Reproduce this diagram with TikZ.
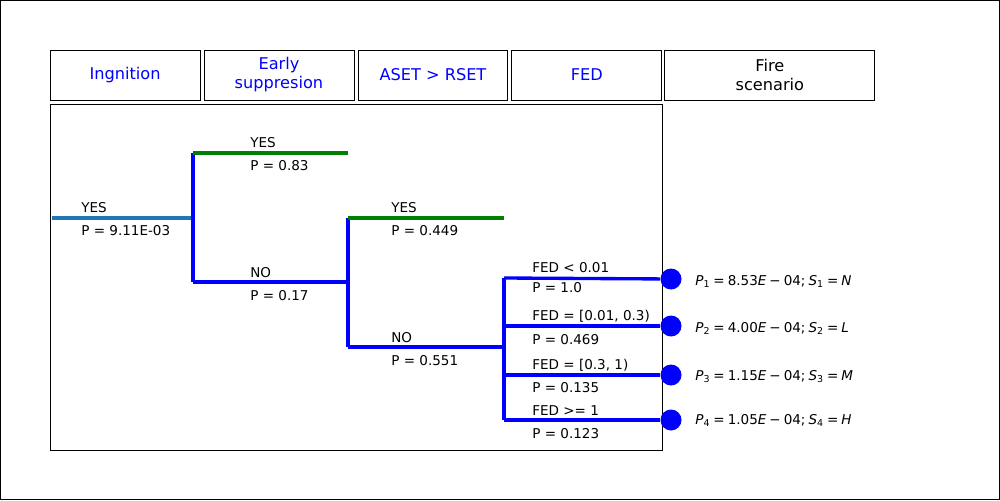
\documentclass[tikz,border=0pt]{standalone}
\usepackage{fontspec}
\setmainfont{DejaVu Sans}
\usetikzlibrary{positioning}
\definecolor{stahlblau}{HTML}{1F77B4}
\definecolor{gruen}{RGB}{0,128,0}
\tikzset{
    kasse/.style={
           draw=black, line width=0.5pt,
           minimum width=3cm,
           minimum height=1cm,
           inner sep=0pt, outer sep=0pt,
           align=center, text=blue,
           font=\fontsize{9.2}{10.8}\selectfont},
    tekst/.style={
           anchor=base west,
           inner sep=0pt,
           font=\fontsize{7.7}{9}\selectfont},
    prik/.style={
           circle, fill=blue,
           minimum size=0.42cm,
           inner sep=0pt},
    gren/.style={
           blue, line width=1.9pt},
    ja/.style={
           gruen, line width=1.9pt}
}

\begin{document}
\begin{tikzpicture}[x=0.02cm, y=-0.02cm]
        \useasboundingbox (0,0) rectangle (1000,500);
        \draw[line width=0.5pt] (0.5,0.5) rectangle (999.5,499.5);

        % header
        \node[kasse] (h1) at (125,75) {Ingnition};
        \node[kasse, right=0.08cm of h1] (h2) {Early\\suppresion};
        \node[kasse, right=0.08cm of h2] (h3) {ASET > RSET};
        \node[kasse, right=0.08cm of h3] (h4) {FED};
        \node[kasse, right=0.06cm of h4, minimum width=4.2cm, text=black] (h5) {Fire\\scenario};
        \draw[line width=0.5pt] (50,104) rectangle (662,450);

        % branch points
        \coordinate (a0) at (52,218);
        \coordinate (a1) at (193,218);
        \coordinate (b0) at (193,153);
        \coordinate (b1) at (348,153);
        \coordinate (c0) at (193,282);
        \coordinate (c1) at (348,282);
        \coordinate (d0) at (348,218);
        \coordinate (d1) at (504,218);
        \coordinate (e0) at (348,347);
        \coordinate (e1) at (504,347);
        \coordinate (f1) at (504,278);
        \coordinate (f2) at (504,326);
        \coordinate (f3) at (504,375);
        \coordinate (f4) at (504,420);

        \node[prik] (p1) at (671,279) {};
        \node[prik] (p2) at (671,326) {};
        \node[prik] (p3) at (671,375) {};
        \node[prik] (p4) at (671,420) {};

        \draw[stahlblau, line width=1.9pt] (a0) -- (a1);
        \draw[gren] (b0) -- (c0);
        \draw[gren] (c0) -- (c1);
        \draw[gren] (d0) -- (e0);
        \draw[gren] (e0) -- (e1);
        \draw[gren] (f1) -- (f4);
        \draw[gren] (f1) -- (p1);
        \draw[gren] (f2) -- (p2);
        \draw[gren] (f3) -- (p3);
        \draw[gren] (f4) -- (p4);
        \draw[ja] (b0) -- (b1);
        \draw[ja] (d0) -- (d1);

        % labels
        \node[tekst] (l1) at (81,212) {YES};
        \node[tekst] (l2) at (81,235) {P = 9.11E-03};
        \node[tekst] (l3) at (250,147) {YES};
        \node[tekst] (l4) at (250,170) {P = 0.83};
        \node[tekst] (l5) at (250,277) {NO};
        \node[tekst] (l6) at (250,300) {P = 0.17};
        \node[tekst] (l7) at (391,212) {YES};
        \node[tekst] (l8) at (391,235) {P = 0.449};
        \node[tekst] (l9) at (391,342) {NO};
        \node[tekst] (l10) at (391,365) {P = 0.551};
        \node[tekst] (l11) at (532,272) {FED < 0.01};
        \node[tekst] (l12) at (532,292) {P = 1.0};
        \node[tekst] (l13) at (532,320) {FED = [0.01, 0.3)};
        \node[tekst] (l14) at (532,344) {P = 0.469};
        \node[tekst] (l15) at (532,369) {FED = [0.3, 1)};
        \node[tekst] (l16) at (532,392) {P = 0.135};
        \node[tekst] (l17) at (532,415) {FED >= 1};
        \node[tekst] (l18) at (532,438) {P = 0.123};

        \node[tekst] (s1) at (695,285) {\textit{P}\textsubscript{1}\:=\:8.53\textit{E}\:−\:04;\:\textit{S}\textsubscript{1}\:=\:\textit{N}};
        \node[tekst] (s2) at (695,332) {\textit{P}\textsubscript{2}\:=\:4.00\textit{E}\:−\:04;\:\textit{S}\textsubscript{2}\:=\:\textit{L}};
        \node[tekst] (s3) at (695,380) {\textit{P}\textsubscript{3}\:=\:1.15\textit{E}\:−\:04;\:\textit{S}\textsubscript{3}\:=\:\textit{M}};
        \node[tekst] (s4) at (695,424) {\textit{P}\textsubscript{4}\:=\:1.05\textit{E}\:−\:04;\:\textit{S}\textsubscript{4}\:=\:\textit{H}};

    \end{tikzpicture}
\end{document}
